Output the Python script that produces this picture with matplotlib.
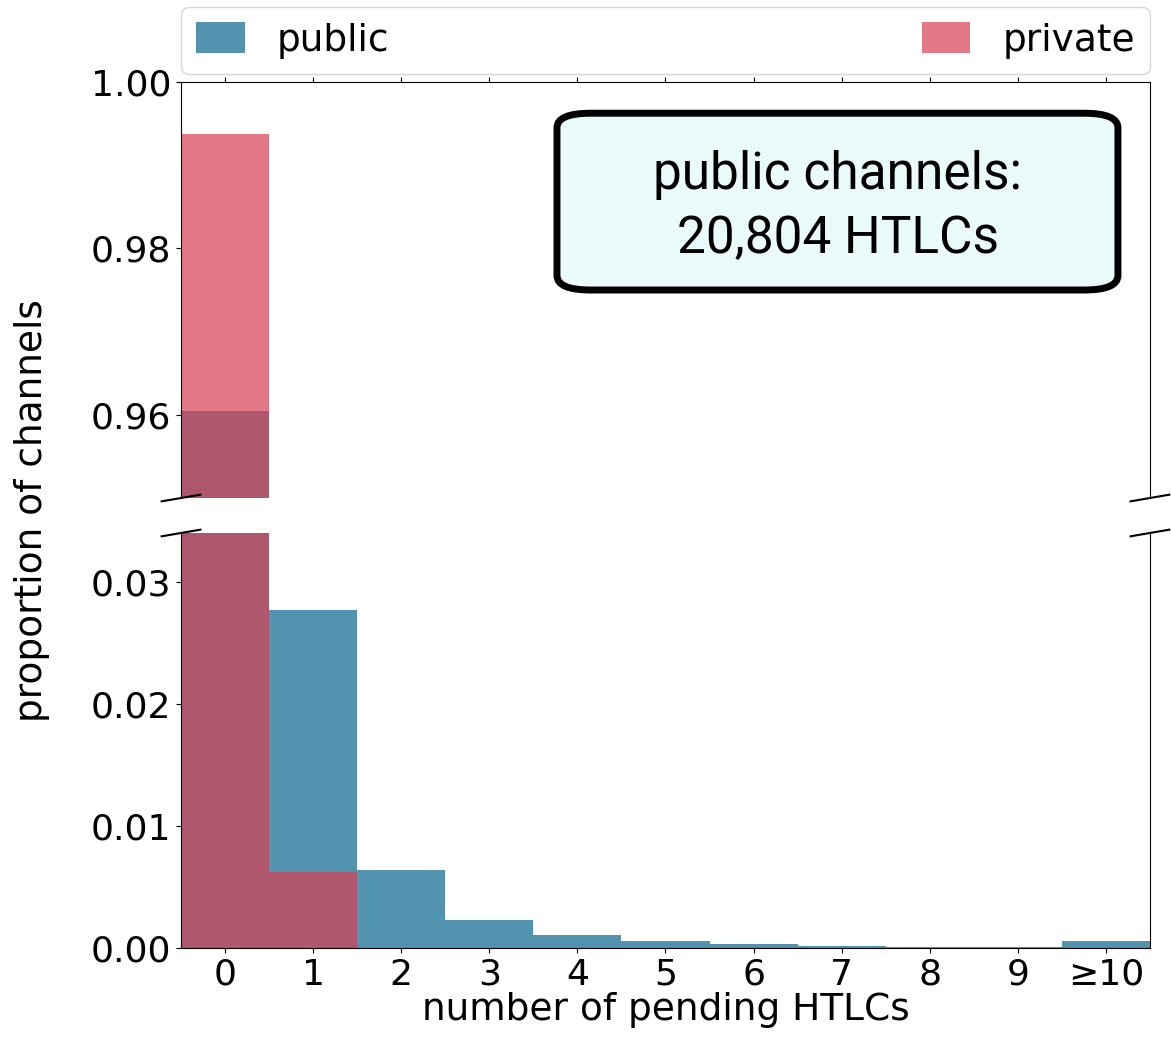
import matplotlib
matplotlib.use("Agg")
import matplotlib.pyplot as plt
from matplotlib.patches import FancyBboxPatch
import numpy as np

# datos
categorias = ["0", "1", "2", "3", "4", "5", "6", "7", "8", "9", "≥10"]
publico = [0.9604, 0.0277, 0.0064, 0.0023, 0.00107, 0.00057, 0.0003, 0.0002, 0.0001, 0.00005, 0.00057]
privado = [0.9938, 0.0062, 0, 0, 0, 0, 0, 0, 0, 0, 0]

color_pub = "#08668e"
color_priv = "#d63e52"

plt.rcParams["font.size"] = 27
plt.rcParams["xtick.labelsize"] = 26
plt.rcParams["ytick.labelsize"] = 26
fig = plt.figure(figsize=(11.71, 10.41), dpi=100)
ax_sup = fig.add_axes([0.1546, 0.5216, 0.8274, 0.3996])
ax_inf = fig.add_axes([0.1546, 0.0893, 0.8274, 0.3987], sharex=ax_sup)

x = np.arange(len(categorias))
for ax in (ax_sup, ax_inf):
    ax.bar(x, publico, width=1.0, color=color_pub, alpha=0.7, label="public")
    ax.bar(x, privado, width=1.0, color=color_priv, alpha=0.7, label="private")
    ax.set_xlim(-0.5, 10.5)

ax_sup.set_ylim(0.95, 1.0)
ax_inf.set_ylim(0, 0.034)
ax_sup.set_yticks([0.96, 0.98, 1.00])
ax_inf.set_yticks([0.00, 0.01, 0.02, 0.03])

ax_sup.spines["bottom"].set_visible(False)
ax_inf.spines["top"].set_visible(False)
ax_sup.xaxis.tick_top()
ax_sup.tick_params(labeltop=False)
ax_inf.xaxis.tick_bottom()
ax_inf.set_xticks(x)
ax_inf.set_xticklabels(categorias)
ax_inf.set_xlabel("number of pending HTLCs", labelpad=0)

#marcas del eje cortado
d = 0.02
dy = 0.008
kw = dict(transform=ax_sup.transAxes, color="k", clip_on=False, lw=1.5)
ax_sup.plot((-d, d), (-dy, dy), **kw)
ax_sup.plot((1 - d, 1 + d), (-dy, dy), **kw)
kw.update(transform=ax_inf.transAxes)
ax_inf.plot((-d, d), (1 - dy, 1 + dy), **kw)
ax_inf.plot((1 - d, 1 + d), (1 - dy, 1 + dy), **kw)

fig.text(0.027, 0.51, "proportion of channels", rotation=90, va="center", ha="center")

ax_sup.legend(bbox_to_anchor=(0, 1.02, 1, 0.2), loc="lower left", mode="expand",
              ncol=2, borderaxespad=0, handlelength=1.3, handleheight=0.9,
              handletextpad=0.85)

# cuadro de anotacion
caja = FancyBboxPatch((0.388, 0.5), 0.579, 0.425, transform=ax_sup.transAxes,
                      boxstyle="round,pad=0,rounding_size=0.035", fc="#eafafb", ec="black",
                      lw=5, zorder=5, mutation_aspect=1)
ax_sup.add_patch(caja)
ax_sup.text(0.678, 0.70, "public channels:\n20,804 HTLCs", transform=ax_sup.transAxes,
            ha="center", va="center", fontsize=37, family="Roboto", linespacing=1.35, zorder=6)

fig.savefig("out.png", dpi=100)
